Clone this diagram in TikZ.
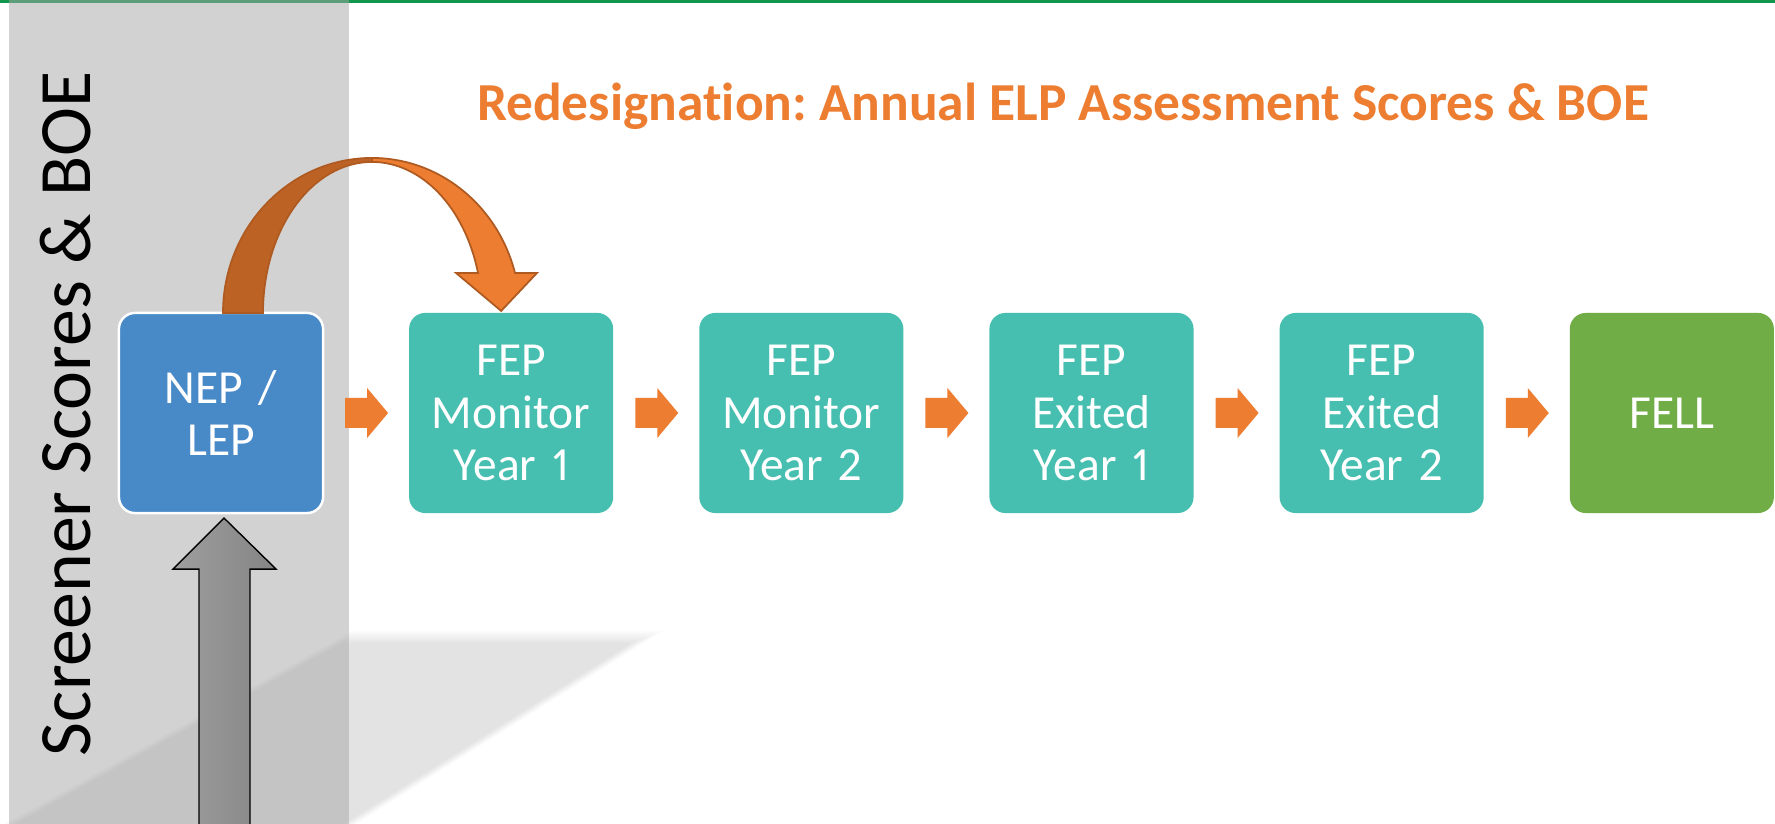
\documentclass[tikz,border=0pt]{standalone}
\usepackage{fontspec}
\setmainfont{Carlito}[Ligatures = NoCommon, Numbers = Proportional]
\usetikzlibrary{positioning,calc}
\frenchspacing

\definecolor{topgreen}{RGB}{18,150,78}
\definecolor{colgray}{RGB}{167,167,167}
\definecolor{nepblue}{RGB}{72,137,199}
\definecolor{fepteal}{RGB}{71,191,176}
\definecolor{fellgreen}{RGB}{112,173,71}
\definecolor{arroworange}{RGB}{237,125,49}
\definecolor{arrowdark}{RGB}{188,98,37}
\definecolor{arrowline}{RGB}{174,90,33}

\tikzset{
  stage/.style = {rectangle, rounded corners = 0.16cm, minimum width = 2.04cm,
    minimum height = 2cm, inner sep = 0pt, outer sep = 0pt, text width = 1.9cm,
    align = center, text = white, font = \fontsize{13.5}{15}\selectfont},
  stepto/.style = {fill = arroworange}
}

\begin{document}
\begin{tikzpicture}[x = 0.01cm, y = 0.01cm]
\useasboundingbox (0,0) rectangle (1775,824);
\fill[white] (0,0) rectangle (1775,824);
\fill[topgreen] (0,820.5) rectangle (1775,824);

% soft shadow at the foot of the screener column
\foreach \d in {-6,-4,...,6} {
  \fill[black, opacity = .0165] (\d-8,-10) -- (347-0.802*\d,187-\d)
    -- (647-2.588*\d,187-\d) -- (334-\d,-10) -- cycle;
}
\fill[colgray, opacity = .5] (9,0) rectangle (349,824);

\node[rotate = 90, font = \fontsize{21}{25}\selectfont] (screener) at (66,410) {Screener Scores \& BOE};
\node[text = arroworange, font = \bfseries\fontsize{15.2}{18}\selectfont] (title) at (1063,718)
  {Redesignation: Annual ELP Assessment Scores \& BOE};

\node[stage, fill = nepblue, draw = white, line width = 0.7pt] (nep) at (221,411) {NEP /\\LEP};
\node[stage, fill = fepteal, right = 0.86cm of nep] (fep1) {FEP\\Monitor\\Year 1};
\node[stage, fill = fepteal, right = 0.86cm of fep1] (fep2) {FEP\\Monitor\\Year 2};
\node[stage, fill = fepteal, right = 0.86cm of fep2] (fep3) {FEP\\Exited\\Year 1};
\node[stage, fill = fepteal, right = 0.86cm of fep3] (fep4) {FEP\\Exited\\Year 2};
\node[stage, fill = fellgreen, right = 0.86cm of fep4] (fell) {FELL};

\foreach \a/\b in {nep/fep1,fep1/fep2,fep2/fep3,fep3/fep4,fep4/fell} {
  \path (\a.east) -- (\b.west) coordinate[pos = .5] (gap);
  \fill[stepto] ($(gap)+(-21,-15)$) -- ++(22,0) -- ++(0,-10) -- ++(21,25)
    -- ++(-21,25) -- ++(0,-10) -- ++(-22,0) -- cycle;
}

% jump arrow from nep over to fep1
\coordinate (bend) at ($(nep.north)+(151,0)$);
\filldraw[fill = arrowdark, draw = arrowline, line width = 0.5pt]
  ($(bend)+(-149,0)$) arc[start angle = 180, end angle = 90, x radius = 149, y radius = 155]
  -- ($(bend)+(0,151)$) arc[start angle = 90, end angle = 180, x radius = 109, y radius = 151]
  -- cycle;
\filldraw[fill = arroworange, draw = arrowline, line width = 0.5pt]
  ($(bend)+(0,155)$) arc[start angle = 90, end angle = 14.95, x radius = 148, y radius = 155]
  -- ($(bend)+(165,40)$) -- ($(fep1.north)+(-10,2)$) -- ($(bend)+(84,40)$)
  -- ($(bend)+(106,40)$) arc[start angle = 15.36, end angle = 90, x radius = 110, y radius = 151]
  -- cycle;

% intake arrow up into nep
\coordinate (intake) at ($(nep.south)+(3,-5)$);
\shade[left color = black!38, right color = black!48, draw = black, line width = 0.4pt]
  ($(intake)+(-25,-311)$) -- ($(intake)+(-25,-51)$) -- ($(intake)+(-51,-51)$) -- (intake)
  -- ($(intake)+(52,-51)$) -- ($(intake)+(26,-51)$) -- ($(intake)+(26,-311)$) -- cycle;
\end{tikzpicture}
\end{document}
